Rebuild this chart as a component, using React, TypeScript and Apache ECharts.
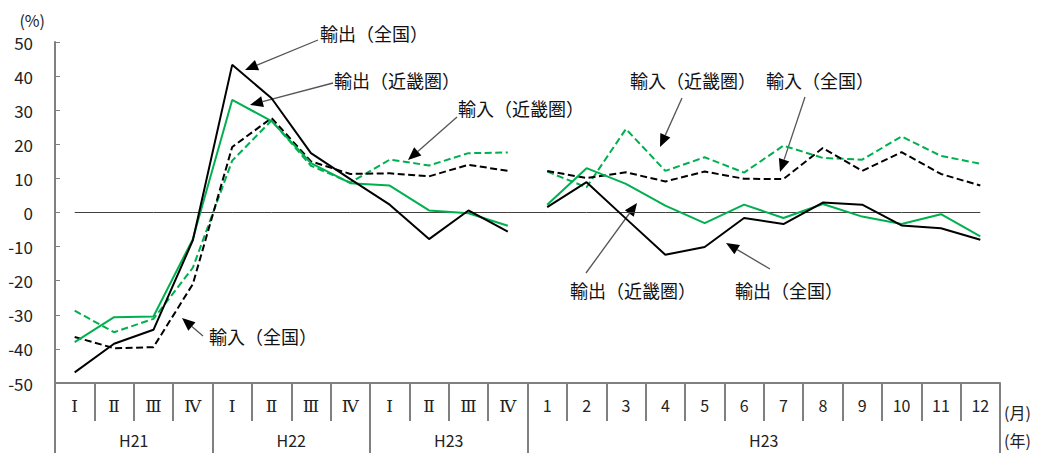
import React, { useEffect, useRef } from 'react';
import * as echarts from 'echarts';

// ---- data ----
const categories = [
  'Ⅰ', 'Ⅱ', 'Ⅲ', 'Ⅳ',
  'Ⅰ', 'Ⅱ', 'Ⅲ', 'Ⅳ',
  'Ⅰ', 'Ⅱ', 'Ⅲ', 'Ⅳ',
  '1', '2', '3', '4', '5', '6', '7', '8', '9', '10', '11', '12',
];
const yearGroups = ['H21', 'H22', 'H23', 'H23'];
const yearGroupSizes = [4, 4, 4, 12];
const quarterCount = 12;

const exportNational = [-46.9, -38.5, -34.4, -8.2, 43.3, 33.5, 17.4, 9.8, 2.3, -7.8, 0.6, -5.6,
  1.6, 8.9, -1.8, -12.4, -10.1, -1.6, -3.4, 2.9, 2.3, -3.8, -4.6, -8.0];
const exportKinki = [-38.0, -30.7, -30.5, -7.8, 33.0, 26.8, 14.5, 8.6, 7.9, 0.6, -0.2, -3.9,
  2.3, 13.0, 8.4, 2.0, -3.1, 2.3, -1.6, 2.5, -1.2, -3.4, -0.5, -7.0];
const importNational = [-36.5, -39.8, -39.5, -21.0, 19.2, 27.7, 15.0, 11.3, 11.5, 10.6, 14.0, 12.2,
  12.2, 10.1, 11.8, 9.1, 12.0, 9.9, 9.8, 18.9, 12.2, 17.7, 11.3, 7.9];
const importKinki = [-28.8, -35.1, -31.2, -16.2, 15.2, 27.0, 13.7, 8.8, 15.5, 13.8, 17.4, 17.6,
  12.0, 7.4, 24.5, 12.2, 16.2, 11.7, 19.6, 16.0, 15.5, 22.3, 16.6, 14.3];
const zeroLine = categories.map(() => 0);

const FONT = "'Noto Sans CJK JP', sans-serif";
const SERIF = "'DejaVu Serif', 'Liberation Serif', serif";
const GREEN = '#00B050';

const seriesDefs = [
  { name: '輸入（近畿圏）', values: importKinki, color: GREEN, dashed: true },
  { name: '輸入（全国）', values: importNational, color: '#000000', dashed: true },
  { name: '輸出（近畿圏）', values: exportKinki, color: GREEN, dashed: false },
  { name: '輸出（全国）', values: exportNational, color: '#000000', dashed: false },
];

// annotation layout (pixel positions of callout labels and arrows)
const annotations = [
  { text: '輸出（全国）', x: 320, y: 33, from: [318, 40], to: [245, 70] },
  { text: '輸出（近畿圏）', x: 334, y: 80, from: [333, 83], to: [250, 105] },
  { text: '輸入（近畿圏）', x: 458, y: 108, from: [457, 117], to: [408, 160] },
  { text: '輸入（近畿圏）', x: 630, y: 80, from: [682, 98], to: [660, 147] },
  { text: '輸入（全国）', x: 766, y: 80, from: [805, 97], to: [780, 172] },
  { text: '輸入（全国）', x: 209, y: 336, from: [203, 336], to: [182, 318] },
  { text: '輸出（近畿圏）', x: 570, y: 290, from: [586, 273], to: [637, 203] },
  { text: '輸出（全国）', x: 735, y: 290, from: [770, 269], to: [726, 243] },
];

const unitLabels = [
  { text: '(月)', x: 1004, y: 412 },
  { text: '(年)', x: 1004, y: 440 },
];

function buildYearAxisData() {
  const arr: string[] = categories.map(() => '');
  let start = 0;
  yearGroups.forEach((g, k) => {
    const size = yearGroupSizes[k];
    arr[start + size / 2 - 1] = g;
    start += size;
  });
  return arr;
}

function buildBoundaries() {
  const b: number[] = [0];
  let s = 0;
  yearGroupSizes.forEach((n) => { s += n; b.push(s); });
  return b;
}

function arrowGraphics() {
  const els: any[] = [];
  annotations.forEach((a) => {
    const [x1, y1] = a.from;
    const [x2, y2] = a.to;
    const dx = x2 - x1, dy = y2 - y1;
    const len = Math.sqrt(dx * dx + dy * dy);
    const ux = dx / len, uy = dy / len;
    const L = 13, W = 11;
    const bx = x2 - ux * L, by = y2 - uy * L;
    const nx = -uy, ny = ux;
    els.push({
      type: 'line', silent: true,
      shape: { x1, y1, x2: bx, y2: by },
      style: { stroke: '#555555', lineWidth: 1.3 },
    });
    els.push({
      type: 'polygon', silent: true,
      shape: { points: [[x2, y2], [bx + nx * W / 2, by + ny * W / 2], [bx - nx * W / 2, by - ny * W / 2]] },
      style: { fill: '#000000' },
    });
    els.push({
      type: 'text', silent: true, x: a.x, y: a.y,
      style: { text: a.text, fontSize: 18, fontFamily: FONT, fill: '#111111', align: 'left', verticalAlign: 'middle' },
    });
  });
  unitLabels.forEach((u) => {
    els.push({
      type: 'text', silent: true, x: u.x, y: u.y,
      style: { text: u.text, fontSize: 16, fontFamily: FONT, fill: '#222222', align: 'left', verticalAlign: 'middle' },
    });
  });
  return els;
}

export default function App() {
  const ref = useRef<HTMLDivElement>(null);
  useEffect(() => {
    document.body.style.margin = '0';
    if (!ref.current) return;
    const chart = echarts.init(ref.current, null, { renderer: 'svg' });
    const boundaries = buildBoundaries();

    const series: any[] = [
      {
        name: 'zero', type: 'line', data: zeroLine, symbol: 'none', silent: true,
        lineStyle: { color: '#404040', width: 1 }, z: 1,
      },
    ];
    seriesDefs.forEach((d) => {
      [0, 1].forEach((part) => {
        series.push({
          name: d.name,
          type: 'line',
          symbol: 'none',
          connectNulls: false,
          data: d.values.map((v, i) => ((i < quarterCount) === (part === 0) ? v : null)),
          lineStyle: { color: d.color, width: 2, type: d.dashed ? [7, 3.5] : 'solid' },
          z: 3,
        });
      });
    });

    chart.setOption({
      animation: false,
      textStyle: { fontFamily: FONT },
      grid: { left: 55, right: 41, top: 42, bottom: 71, containLabel: false },
      xAxis: [
        {
          type: 'category',
          data: categories,
          boundaryGap: true,
          position: 'bottom',
          axisLine: { show: true, onZero: false, lineStyle: { color: '#808080', width: 2 } },
          axisTick: { show: true, interval: 0, length: 38, lineStyle: { color: '#808080', width: 2 } },
          axisLabel: {
            interval: 0, margin: 14, fontSize: 16, color: '#222', fontFamily: FONT,
            formatter: (v: string) => (/^[0-9]/.test(v) ? v : `{r|${v}}`),
            rich: { r: { fontFamily: SERIF, fontSize: 17, color: '#222' } },
          },
          splitLine: { show: false },
        },
        {
          type: 'category',
          data: buildYearAxisData(),
          boundaryGap: true,
          position: 'bottom',
          offset: 0,
          axisLine: { show: false, onZero: false },
          axisTick: {
            show: true,
            length: 70,
            interval: (index: number) => boundaries.indexOf(index) >= 0,
            lineStyle: { color: '#808080', width: 2 },
          },
          axisLabel: {
            interval: 0, margin: 49, fontSize: 16, color: '#222', fontFamily: FONT,
            padding: [0, 0, 0, 39.4],
          },
          splitLine: { show: false },
        },
      ],
      yAxis: {
        type: 'value',
        min: -50,
        max: 50,
        interval: 10,
        name: '(%)',
        nameLocation: 'end',
        nameGap: 14,
        nameTextStyle: { fontSize: 16, color: '#222', fontFamily: FONT, align: 'right', padding: [0, 10, 0, 0] },
        axisLine: { show: true, lineStyle: { color: '#808080', width: 2 } },
        axisTick: { show: true, inside: true, length: 5, lineStyle: { color: '#808080', width: 1 } },
        axisLabel: { fontSize: 17, color: '#222', margin: 22, fontFamily: FONT },
        splitLine: { show: false },
      },
      series,
      graphic: arrowGraphics(),
    });
    return () => chart.dispose();
  }, []);
  return <div ref={ref} style={{ width: 1041, height: 454 }} />;
}
